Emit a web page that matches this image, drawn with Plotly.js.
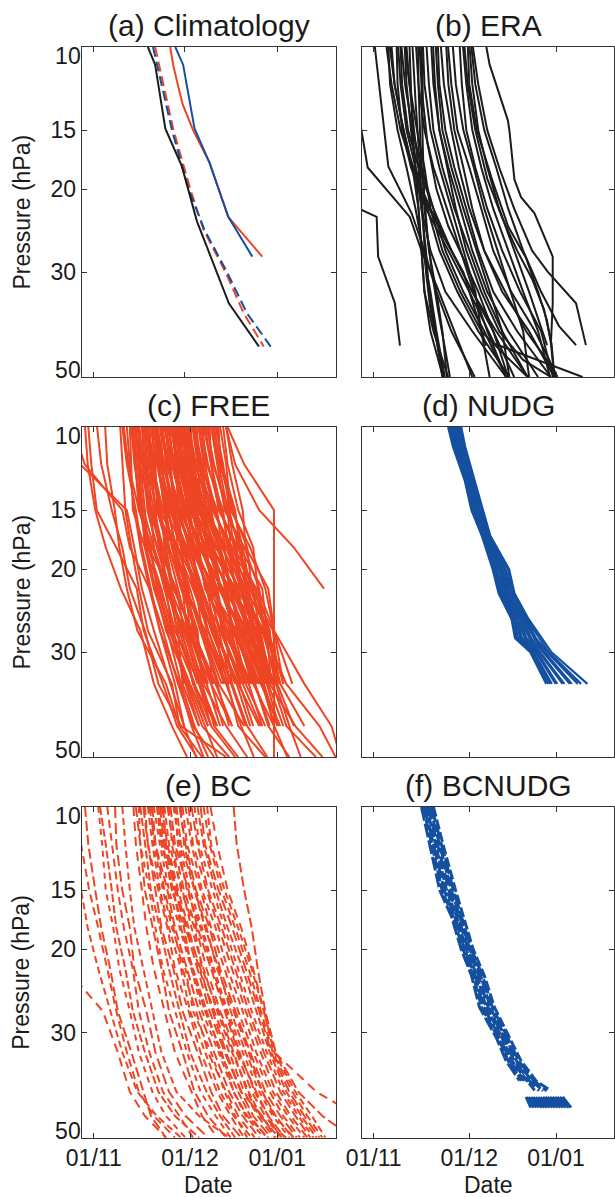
<!DOCTYPE html>
<html><head><meta charset="utf-8">
<script src="https://cdn.plot.ly/plotly-3.0.1.min.js"></script>
<style>html,body{margin:0;padding:0;background:#fff}</style>
</head><body><div id="chart" style="width:615px;height:1197px"></div>
<script>
// ---------------- DATA (x = days since 1 November, y = pressure in hPa) ----------------
const tickLabels = ['01/11', '01/12', '01/01'];
const tickDaysA = [0, 30, 61];
const tickDaysOther = [0, 32, 61];
const pressureTicks = [10, 15, 20, 30, 50];
const panelTitles = ['(a) Climatology', '(b) ERA', '(c) FREE', '(d) NUDG', '(e) BC', '(f) BCNUDG'];

// (a) Climatology : [day, hPa]
const climBlack    = [[18.0,10],[20.4,10.9],[23.8,14.9],[29.3,17.9],[34.3,23.4],[44.9,34.9],[54.9,43.1]];
const climRed      = [[25.4,10],[26.5,11.0],[29.5,13.2],[33.0,15.0],[38.5,17.6],[44.7,22.9],[56.0,27.8]];
const climBlue     = [[27.1,10],[29.7,10.9],[33.5,14.9],[38.5,17.6],[44.7,22.9],[52.7,27.8]];
const climRedDash  = [[20.4,10],[26.5,15.0],[32.1,20.0],[36.5,24.4],[43.8,30.0],[49.9,36.7],[56.5,43.1]];
const climBlueDash = [[19.7,10],[26.0,15.0],[31.5,20.0],[36.8,24.4],[44.3,30.0],[51.0,36.7],[58.8,43.1]];

// (b) ERA : each line is a list of [day, hPa]
const eraLines = [
 [[-4.5,14.5],[-2.0,18.0],[12.1,22.9],[16,27],[21,32],[27,40],[33,50]],
 [[-5,22.0],[1.0,22.9],[1.5,27.8],[7.1,34.9],[8.8,42.9]],
 [[0.4,10],[4.9,17.9],[12.7,22.5],[17,27],[21,33],[26,40],[33.8,50]],
 [[4.9,10],[5.5,12],[8,15],[11,18],[14,22],[16.5,27],[19,33],[21,40],[23.8,50]],
 [[5.4,10],[7,12],[10,15],[13,18],[15,22],[16,27],[17,33],[20,40],[24.9,50]],
 [[8.2,10],[9,12],[11,15],[14,18],[18,22],[22,27],[28,33],[35,40],[45.4,50]],
 [[9.3,10],[10.5,12],[13,15],[16,18],[20,22],[24,27],[30,33],[37,40],[44.3,50]],
 [[10.4,10],[12,12],[14.5,15],[17,18],[19,22],[23,27],[29,33],[36,40],[44,45],[51.5,50]],
 [[15.4,10],[16,12],[16.3,15],[16.6,18],[17,22],[18.5,27],[21,33],[23,40],[24.5,50]],
 [[16.0,10],[16.5,13],[18,16],[21,20],[25,24],[30,28],[35,33],[40,40],[47,50]],
 [[16.5,10],[17,12],[19,15],[22,18],[26,22],[30,27],[34,33],[36,40],[38.8,50]],
 [[19.3,10],[20,12],[22,15],[25,18],[29,22],[33,27],[38,33],[45,40],[55,50]],
 [[21.5,10],[22,12],[24,15],[27,18],[31,22],[35,27],[40,33],[48,40],[59.3,50]],
 [[24.3,10],[25,12],[27,15],[30,18],[33,22],[37,27],[43,33],[52,40],[60.4,50]],
 [[24.9,10],[26,12],[28,15],[32,18],[36,22],[40,27],[46,33],[54,40],[61.5,50]],
 [[28.8,10],[29.5,12],[31,15],[34,18],[38,22],[43,27],[49,33],[56,40],[60,50]],
 [[29.9,10],[31,12],[33,15],[36,18],[40,22],[45,27],[50,33],[55,40],[59,50]],
 [[32.1,10],[33,12],[35,15],[38,18],[42,22],[47,27],[52,33],[58,42.8]],
 [[32.7,10],[34,12],[37,15],[41,18],[45,22],[50,27],[56,33],[62,39],[67.7,42.8]],
 [[33.2,10],[35,12],[38,15],[42,18],[47,22],[53,27],[58.2,29.9],[67.7,34.9],[71.0,42.8]],
 [[37.7,10],[38.8,10.9],[44.9,14.3],[45.4,15],[47.1,19.1],[49.3,20.8],[53.8,22.5],[59.9,27.8],[59.9,34.9],[59.3,42.4],[60.4,50]],
 [[12,10],[12.5,12],[13,15],[14,18],[15,22],[16,27],[17,33],[19,40],[23.2,50]],
 [[13,10],[14,13],[15.5,18],[16.5,24],[17.5,30],[19,36],[21,42],[23.5,50]],
 [[6,10],[7,12],[9,14],[12,17],[17,21],[23,25],[30,30],[37.6,42.9]],
 [[7.7,10],[8,12],[9.5,15],[12.5,18],[17.5,22],[25,27],[32,33],[40.4,42.5],[69.9,50]],
 [[9.0,10],[9.5,12],[11.5,15],[15,18],[20,22],[26,27],[33,33],[40,40],[45,50]],
 [[4.3,10],[6,12],[9,15],[13,18],[19,22],[26,27],[33,33],[41,40],[51.5,50]],
 [[14.9,10],[15,12],[15.5,15],[16,18],[17,21],[18,25],[19.5,30],[21.5,36],[24,44],[25.5,50]],
 [[20.8,10],[21.5,12],[23,15],[26,18],[30,22],[34.5,27],[39,33],[43,40],[45.4,50]],
 [[17.7,10],[18.5,12],[20,15],[23,18],[27,22],[32,27],[37,33],[43,40],[51.5,50]],
 [[10.4,10],[11,12],[12.5,15],[14,18],[16,22],[19,27],[24,33],[33,40],[44.3,50]],
 [[19.9,10],[20.5,12],[22,15],[24.5,18],[27.5,22],[31,27],[36,33],[42,40],[50,46],[59.3,50]],
 [[30.4,10],[31.5,12],[34,15],[38,19],[43,23],[48,27],[53,31],[57,36],[59.5,42.5],[60.5,50]],
 [[31.5,10],[32,12],[34.5,15],[39.5,19],[45,24],[51,28],[55,33],[58,38],[59.3,42.4]],
 [[26.5,10],[27.5,12],[30,15],[33.5,18],[37,22],[41.5,27],[46,33],[50,40],[52,50]],
 [[14.2,10],[15,12],[17,15],[20,18],[24.5,22],[29,27],[33.5,33],[38,40],[44.3,50]],
 [[22.5,10],[23.5,12],[26,15],[28.5,18],[32,22],[37,27],[44,33],[51,40],[59,47],[61,50]],
 [[11,10],[12,12],[13.5,15],[15,18],[16,22],[17.5,27],[18.5,33],[20.5,40],[23,50]]
];

// (c) FREE : day at each pressure level (null = no value)
const freeLevels = [10, 12, 15, 18, 22, 27, 35, 43, 50];
const freeDays = [
 [-1.8,-0.8,1.0,7.5,14.3,16.6,23.0,27.7,34.3],
 [-2.9,-2.0,0.5,4.0,9.0,15.5,20.0,26.0,31.0],
 [1.1,2.5,6.0,9.5,12.0,17.0,21.5,29.0,44.0],
 [3.8,4.5,7.0,8.5,11.0,14.5,24.0,28.5,36.0],
 [-9.0,-4.5,11.0,13.5,16.0,20.0,25.5,30.0,null],
 [-7.0,-3.0,9.5,12.0,18.5,23.0,28.0,33.0,40.0],
 [8.8,9.5,10.5,12.5,15.0,18.0,26.0,28.5,null],
 [9.5,11.0,14.0,16.0,19.0,22.0,27.0,30.0,34.0],
 [12.0,12.5,13.0,17.0,22.0,26.5,30.0,null,null],
 [13.0,14.5,16.5,20.0,23.5,27.0,35.0,39.0,null],
 [13.5,13.8,15.0,19.5,24.0,30.0,35.5,41.0,null],
 [14.5,16.0,18.0,21.0,25.0,29.0,34.5,null,null],
 [15.0,15.5,17.0,18.0,25.5,31.0,36.0,40.0,48.0],
 [16.0,17.0,20.0,23.0,26.0,28.5,33.0,41.0,null],
 [16.5,18.0,19.0,22.0,27.0,32.0,38.0,null,null],
 [17.0,17.5,21.0,24.5,28.0,31.5,37.5,42.0,null],
 [17.5,19.0,22.5,23.5,26.5,33.0,39.5,null,null],
 [18.0,20.0,21.5,25.0,29.0,34.0,36.5,44.0,51.0],
 [18.5,19.5,23.0,27.0,30.5,32.0,40.0,null,null],
 [19.0,21.0,24.0,26.0,31.0,35.5,41.0,45.0,null],
 [19.5,20.0,22.0,28.0,32.0,36.0,42.5,null,null],
 [20.0,22.0,25.5,29.0,30.5,37.0,44.0,49.0,53.2],
 [20.5,22.5,24.5,27.5,33.0,38.0,45.0,null,null],
 [21.0,23.5,27.0,30.0,34.0,36.0,41.5,50.0,null],
 [21.5,22.0,26.0,31.0,35.0,39.0,46.0,null,null],
 [22.0,24.5,28.0,29.5,33.5,40.0,47.5,52.0,null],
 [22.5,25.0,27.5,32.0,36.0,41.0,43.0,null,null],
 [23.0,24.0,29.0,33.5,37.5,40.5,48.0,55.0,null],
 [24.0,26.0,30.0,32.5,38.0,42.0,49.0,null,null],
 [24.5,27.0,28.5,34.0,39.0,43.5,46.0,51.0,57.7],
 [25.0,26.5,31.0,35.0,37.0,44.0,50.0,null,null],
 [25.5,28.0,32.0,33.5,40.0,45.0,51.5,56.0,null],
 [26.0,27.5,30.5,36.0,41.0,43.0,52.0,null,null],
 [26.5,29.0,33.0,37.0,39.5,46.0,48.5,null,null],
 [27.0,28.5,34.0,38.0,42.0,47.0,53.0,59.9,59.9],
 [27.5,30.0,32.5,35.5,43.0,48.0,54.5,null,null],
 [28.0,29.5,35.0,39.0,44.0,45.5,50.5,57.0,null],
 [28.5,31.0,33.5,40.0,41.5,49.0,55.0,null,null],
 [29.0,30.5,36.0,37.5,45.0,50.0,56.0,60.0,64.3],
 [29.5,32.0,34.5,41.0,46.0,47.5,52.5,null,null],
 [30.0,31.5,37.0,42.0,43.5,51.0,57.5,null,null],
 [31.0,33.0,36.5,39.5,47.0,52.0,55.5,62.0,null],
 [31.5,34.0,38.0,43.0,48.0,50.5,58.5,null,null],
 [32.0,33.5,39.0,41.5,45.5,53.0,59.9,59.9,59.9],
 [33.0,35.0,37.5,44.0,49.0,54.0,57.0,null,null],
 [33.5,36.0,40.0,45.0,47.0,51.5,60.5,65.0,68.8],
 [34.0,35.5,41.0,42.5,50.0,55.0,59.0,null,null],
 [35.0,37.0,39.5,46.0,51.0,53.5,58.0,null,null],
 [35.5,38.0,42.0,47.0,48.5,56.0,61.0,66.5,null],
 [36.0,37.5,43.0,44.5,52.0,57.0,62.0,null,null],
 [37.0,39.0,41.5,48.0,53.0,55.0,59.5,64.0,73.8],
 [37.5,40.0,44.0,49.0,50.5,58.0,63.0,null,null],
 [38.0,39.5,45.0,46.5,54.0,58.5,60.0,null,null],
 [39.0,41.0,43.5,50.0,55.0,56.5,64.0,75.0,80.4],
 [40.0,42.0,46.0,51.0,52.5,59.5,61.5,null,null],
 [41.0,42.5,47.0,48.5,56.0,57.5,62.0,70.0,null],
 [42.0,44.0,45.5,52.0,57.0,59.9,66.0,null,null],
 [43.0,44.5,48.0,53.0,54.5,59.9,70.0,79.0,82.0],
 [44.0,46.0,49.5,50.5,58.0,59.9,63.0,null,null],
 [44.5,50.0,59.9,59.9,59.9,59.9,59.9,59.9,59.9],
 [44.0,47.0,55.0,66.5,76.5,null,null,null,null],
 [12.5,14.0,15.5,17.5,20.5,24.0,31.5,37.0,41.0],
 [10.0,11.5,15.0,19.0,21.0,25.0,32.0,38.0,null],
 [14.0,15.0,19.5,22.5,24.5,28.0,29.5,35.0,null],
 [23.5,25.5,26.5,30.5,35.5,40.0,44.5,48.0,57.0],
 [30.5,32.5,35.5,38.5,42.5,46.5,53.5,58.0,65.0],
 [20.0,21.5,23.5,26.0,29.5,33.5,39.0,46.0,null],
 [36.5,39.0,42.5,45.0,49.5,52.5,56.5,61.0,null],
 [40.5,43.0,45.0,48.0,51.5,54.5,58.5,67.0,76.0],
 [18.0,19.0,20.5,22.0,24.0,26.0,31.0,36.0,45.0],
 [12.5,13.5,16.0,18.5,21.5,25.5,30.5,35.0,null],
 [13.8,15.0,15.5,18.0,22.5,26.0,33.5,null,null],
 [15.2,16.5,19.0,20.0,24.5,29.5,33.0,38.0,null],
 [16.2,16.8,18.5,22.5,23.5,30.5,36.5,null,null],
 [17.3,18.5,20.5,21.5,27.5,30.0,35.0,40.5,null],
 [18.2,18.8,22.0,24.0,26.5,32.5,37.0,null,null],
 [19.2,20.5,21.0,26.5,29.5,31.0,39.0,43.0,null],
 [19.8,21.5,23.5,25.0,30.0,34.5,36.0,null,null],
 [20.8,21.2,25.0,27.0,31.5,33.0,40.5,46.0,null],
 [21.2,22.8,24.0,29.5,30.0,36.5,43.5,null,null],
 [22.2,23.0,26.5,28.0,34.5,37.5,39.5,null,null],
 [22.8,24.0,25.5,30.5,33.0,39.5,45.5,50.5,null],
 [23.8,25.5,27.0,29.0,35.0,38.0,44.0,null,null],
 [24.2,24.8,28.5,31.5,36.0,40.5,47.0,null,null],
 [25.2,26.0,29.5,33.0,34.5,42.5,48.5,53.0,null],
 [25.8,27.5,28.0,32.5,38.5,41.5,45.5,null,null],
 [26.2,28.0,31.5,34.5,37.0,44.5,50.5,null,null],
 [26.8,27.2,30.0,35.5,40.5,42.5,49.5,55.5,null],
 [27.2,29.5,31.0,33.0,38.0,46.5,51.0,null,null],
 [27.8,28.2,33.0,36.5,41.0,44.0,52.5,null,null],
 [28.2,30.0,32.0,37.5,39.0,47.5,53.5,58.5,null],
 [28.8,29.2,34.5,35.0,42.5,48.5,54.0,null,null],
 [29.2,31.5,33.0,38.5,44.5,46.0,55.5,null,null],
 [29.8,30.2,35.5,40.0,42.0,49.5,56.5,59.9,null],
 [30.2,32.5,34.0,36.5,45.5,51.5,53.0,null,null],
 [30.8,31.2,36.5,41.5,44.0,50.0,57.0,null,null],
 [31.2,33.5,35.0,39.0,46.5,52.5,58.0,63.0,null],
 [32.2,32.8,37.5,43.5,45.0,49.0,56.0,null,null],
 [32.8,34.5,36.0,40.5,48.5,53.5,59.0,null,null],
 [33.2,35.5,38.5,42.0,46.0,54.5,57.5,61.5,null],
 [34.2,34.8,39.5,45.5,49.5,51.0,59.5,null,null],
 [34.8,36.5,37.0,43.0,47.5,55.5,58.5,null,null],
 [36.2,36.8,40.5,44.0,50.5,53.0,59.9,null,null],
 [38.5,39.0,42.0,47.5,49.0,56.5,60.5,null,null],
 [39.5,41.5,44.5,45.5,53.5,57.5,59.0,null,null],
 [41.5,42.0,46.5,49.5,52.0,58.0,61.0,null,null],
 [16.8,17.5,17.8,21.0,25.5,27.5,33.5,39.0,47.0],
 [14.8,15.2,16.0,17.0,20.0,24.5,29.0,33.5,38.0],
 [11.0,12.0,13.5,15.5,18.5,22.0,28.5,32.5,36.5]
];

// (d) NUDG : day at each pressure level
const nudgLevels = [10, 11, 13, 15, 17, 20, 22.5, 25.5, 28, 30, 35];
const nudgDays = [
 [24.9,26.5,30.5,32.7,36.2,39.8,41.8,46.1,47.3,52.4,57.7],
 [25.2,26.9,30.7,33.1,36.4,40.3,42.3,46.3,47.9,52.7,58.4],
 [25.7,27.0,31.1,33.2,36.9,40.5,42.5,46.9,48.3,53.3,59.1],
 [26.0,27.5,31.2,33.7,37.0,41.1,43.1,47.2,49.1,53.6,59.6],
 [26.4,27.6,31.7,33.8,37.5,41.3,43.3,47.9,49.6,54.3,60.9],
 [26.6,28.1,31.8,34.3,37.5,42.0,43.9,48.2,50.5,54.7,61.4],
 [27.1,28.2,32.2,34.4,38.0,42.2,44.4,48.9,51.1,55.4,63.2],
 [27.3,28.7,32.3,34.9,38.1,42.9,44.7,49.2,52.1,55.8,63.8],
 [27.8,28.8,32.8,35.0,38.4,43.1,45.4,49.9,52.7,56.7,65.6],
 [28.0,29.4,32.9,35.6,38.5,43.8,45.7,50.2,53.7,57.2,66.3],
 [28.5,29.6,33.4,35.7,38.8,44.1,46.4,50.9,54.3,58.1,68.3],
 [28.8,30.2,33.5,36.3,38.9,44.9,46.6,51.2,55.3,58.6,69.4],
 [29.3,30.6,33.8,36.5,39.0,45.3,47.1,51.8,56.1,59.5,71.5]
];

// (e) BC : day at each pressure level
const bcLevels = [10, 12, 15, 18, 22, 27, 33, 40, 45, 50];
const bcDays = [
 [-9,-4.2,-1.5,1.5,4.5,7.5,11,15,20,27],
 [-12,-8,-4.2,-2,1.5,5.5,9.5,14.5,21,29],
 [null,null,null,null,-9,3,8,12,17,24],
 [-2.9,-1.8,0.5,2.5,5.5,8,12.5,16.5,19,24],
 [1.5,2.8,4.0,6.5,8.5,12.0,15.0,19.5,24.0,30.5],
 [2.1,4.0,6.0,7.5,10.5,13.0,17.0,21.5,27.0,35.0],
 [7.1,7.5,9.5,12.0,13.5,17.5,20.5,25.0,30.5,38.0],
 [4.5,6.0,8.0,10.0,13.0,15.0,18.5,23.0,28.5,33.0],
 [9.5,10.5,12.0,13.5,16.5,19.5,22.5,27.5,35.0,45.0],
 [13.2,14.0,16.0,17.5,20.0,23.5,27.0,32.5,36.0,41.0],
 [14.0,15.5,17.0,19.5,22.5,25.0,29.5,33.5,38.0,44.0],
 [15.0,15.5,18.5,20.5,23.0,27.0,31.0,35.5,40.5,45.5],
 [15.5,17.0,19.0,22.0,25.0,28.5,32.0,37.5,42.0,47.0],
 [16.5,18.0,20.5,22.5,26.5,29.5,34.5,39.0,43.0,49.0],
 [17.0,18.0,21.5,24.5,27.0,31.5,35.5,41.0,45.5,50.0],
 [18.0,19.5,22.0,25.0,29.0,32.0,37.0,42.0,46.5,52.5],
 [18.5,20.5,23.5,26.5,29.5,34.0,38.0,44.0,48.0,53.5],
 [19.5,20.5,24.5,27.0,31.0,35.0,40.0,45.0,49.5,55.0],
 [20.0,22.0,25.0,28.5,32.5,36.0,41.5,46.5,50.5,56.5],
 [21.0,22.5,26.5,29.0,33.0,37.5,42.0,48.0,52.0,57.5],
 [22.0,23.5,27.0,30.5,34.5,38.5,43.5,49.0,53.0,59.0],
 [22.5,24.5,28.0,31.5,35.0,40.0,45.0,50.0,54.5,60.0],
 [23.5,25.0,29.5,32.5,36.5,41.0,46.0,51.5,55.5,61.5],
 [24.5,26.5,30.0,34.0,37.5,42.0,47.5,52.5,57.0,62.5],
 [25.5,27.0,31.5,34.5,39.0,43.5,48.0,54.0,58.0,63.5],
 [26.5,28.5,32.0,36.0,40.0,44.5,49.5,55.0,59.5,65.0],
 [27.5,29.0,33.5,37.0,41.5,45.5,50.5,56.0,60.5,66.0],
 [28.5,30.5,34.0,38.5,42.0,47.0,52.0,57.0,62.0,67.5],
 [29.5,31.0,35.5,39.0,43.5,48.0,53.0,58.5,63.0,68.5],
 [30.5,32.5,36.0,40.5,44.5,49.5,54.0,59.5,64.5,70.0],
 [31.5,33.0,37.5,41.5,46.0,50.5,55.5,60.5,65.5,71.0],
 [32.5,34.5,38.0,42.5,47.0,51.5,56.5,62.0,67.0,72.0],
 [33.5,35.0,39.5,43.5,48.0,52.5,57.5,63.0,68.0,73.0],
 [34.5,36.5,40.5,44.5,49.5,54.0,58.5,64.0,69.0,74.0],
 [35.5,37.0,41.5,46.0,50.5,55.0,59.0,65.0,70.0,75.0],
 [36.5,38.5,42.5,47.0,51.5,55.5,59.5,66.0,71.0,76.0],
 [37.7,39.0,43.5,48.0,52.5,56.5,60.0,67.0,72.5,77.0],
 [38.8,41.0,44.5,49.0,53.0,56.5,60.0,74.0,88.0,100.0],
 [46.5,47.5,50.0,52.5,54.5,57.0,60.5,68.0,76.0,86.0],
 [19.0,20.0,23.0,26.0,30.5,33.0,39.0,43.5,47.0,51.0],
 [21.5,23.0,26.0,30.0,32.5,37.0,42.5,46.5,51.0,58.0],
 [23.0,24.0,27.5,31.0,35.5,39.5,44.0,49.0,56.0,60.5],
 [25.0,26.0,29.0,33.5,36.0,41.5,46.5,51.0,55.0,64.0],
 [27.0,28.0,31.0,35.5,39.5,44.0,48.5,53.5,58.0,62.0],
 [29.0,30.0,33.5,37.5,41.0,46.5,51.5,56.0,60.0,66.5]
];

// (f) BCNUDG : day at each pressure level, plus the detached piece at 41-43 hPa
const bcnudgLevels = [10, 12, 15, 17, 20, 22.7, 26.5, 30.7, 34.4, 37.9, 39.8];
const bcnudgDays = [
 [16.0,18.8,22.1,26.0,29.3,32.7,35.4,41.0,44.3,48.8,null],
 [16.6,19.4,22.9,26.5,29.9,33.3,36.1,41.6,45.0,49.6,null],
 [17.1,20.0,23.6,27.1,30.4,33.9,36.8,42.2,45.6,50.4,null],
 [17.7,20.7,24.4,27.7,31.0,34.5,37.6,42.9,46.3,51.3,54.0],
 [18.2,21.3,25.2,28.2,31.6,35.1,38.3,43.5,47.0,52.1,55.3],
 [18.8,22.0,26.0,28.8,32.2,35.8,39.0,44.1,47.8,52.9,56.6],
 [19.4,22.6,26.7,29.3,32.7,36.4,39.7,44.8,48.5,53.6,57.9],
 [20.0,23.2,27.4,29.9,33.3,37.0,40.4,45.4,49.3,54.3,59.3]
];
const bcnudgBlockLevels = [41.0, 43.2];
const bcnudgBlockDays = [
 [51.0,52.6],[51.8,53.5],[52.6,54.4],[53.4,55.3],[54.2,56.2],[55.0,57.1],[55.8,58.0],[56.6,58.9],
 [57.4,59.8],[58.2,60.7],[59.0,61.6],[59.8,62.5],[60.6,63.4],[61.4,64.3],[62.3,65.2],[63.2,66.0]
];

// ---------------- BUILD ----------------
const RED = '#ee4524', BLUE = '#1550a0', BLACK = '#1c1c1c';
const BC_DASHES = ['8px,5px', '7px,4px', '9px,6px', '10px,4px', '6px,5px', '8px,3px', '11px,5px'];
const BCN_DASHES = ['14px,3px', '11px,2px', '16px,3px', '9px,2px', '13px,4px', '12px,2px', '15px,3px', '10px,3px'];

function fromPairs(lines) {
  const x = [], y = [];
  lines.forEach(l => { l.forEach(pt => { x.push(pt[0]); y.push(pt[1]); }); x.push(null); y.push(null); });
  return {x, y};
}
function fromLevels(lines, levels) {
  const x = [], y = [];
  lines.forEach(l => { l.forEach((d, i) => { if (d !== null) { x.push(d); y.push(levels[i]); } }); x.push(null); y.push(null); });
  return {x, y};
}
function tr(xy, ax, color, width, dash) {
  return {type: 'scatter', mode: 'lines', x: xy.x, y: xy.y, xaxis: 'x' + ax, yaxis: 'y' + ax,
          line: {color: color, width: width, dash: dash || 'solid'}, hoverinfo: 'skip', showlegend: false};
}
const traces = [
  tr(fromPairs([climRedDash]), '', RED, 2, '10px,5px'),
  tr(fromPairs([climBlueDash]), '', BLUE, 2, '10px,5px'),
  tr(fromPairs([climBlack]), '', BLACK, 2),
  tr(fromPairs([climRed]), '', RED, 2),
  tr(fromPairs([climBlue]), '', BLUE, 2),
  tr(fromPairs(eraLines), '2', BLACK, 2),
  tr(fromLevels(freeDays, freeLevels), '3', RED, 2),
  tr(fromLevels(nudgDays, nudgLevels), '4', BLUE, 2.2)
];
bcDays.forEach((l, i) => traces.push(tr(fromLevels([l], bcLevels), '5', RED, 2, BC_DASHES[i % BC_DASHES.length])));
bcnudgDays.forEach((l, i) => traces.push(tr(fromLevels([l], bcnudgLevels), '6', BLUE, 3, BCN_DASHES[i % BCN_DASHES.length])));
traces.push(tr(fromLevels(bcnudgBlockDays, bcnudgBlockLevels), '6', BLUE, 3));

const FONT = 'Liberation Sans, Arial, Helvetica, sans-serif';
const TXT = '#1a1a1a';
const W = 615, H = 1197;
const colDom = [[81.7 / W, 336 / W], [361.7 / W, 614.3 / W]];
const rowPx = [[47, 377], [427, 757], [807, 1137.7]];
const rowDom = rowPx.map(r => [1 - r[1] / H, 1 - r[0] / H]);
const YRANGE = [Math.log10(50), 1];

const layout = {
  width: W, height: H, margin: {l: 0, r: 0, t: 0, b: 0},
  paper_bgcolor: '#fff', plot_bgcolor: '#fff', showlegend: false,
  font: {family: FONT, color: TXT, size: 23},
  annotations: []
};
const tickFont = {family: FONT, size: 23, color: TXT};
for (let i = 0; i < 6; i++) {
  const col = i % 2, row = Math.floor(i / 2);
  const s = i === 0 ? '' : String(i + 1);
  layout['xaxis' + s] = {
    domain: colDom[col], anchor: 'y' + s, range: [-4, 80.5],
    tickmode: 'array', tickvals: i === 0 ? tickDaysA : tickDaysOther, ticktext: tickLabels,
    showticklabels: row === 2, ticks: 'inside', ticklen: 5, tickwidth: 1, tickcolor: '#333',
    showline: true, linecolor: '#333', linewidth: 1, mirror: 'ticks',
    showgrid: false, zeroline: false, fixedrange: true, tickfont: tickFont
  };
  // middle labels on the main axis; end labels (10, 50) on overlay axes kept inside the frame
  layout['yaxis' + s] = {
    domain: rowDom[row], anchor: 'x' + s, type: 'log', range: YRANGE,
    tickmode: 'array', tickvals: pressureTicks,
    ticktext: pressureTicks.map((v, k) => (k === 0 || k === pressureTicks.length - 1) ? '' : String(v)),
    showticklabels: col === 0, ticks: 'inside', ticklen: 5, tickwidth: 1, tickcolor: '#333',
    showline: true, linecolor: '#333', linewidth: 1, mirror: 'ticks',
    showgrid: false, zeroline: false, fixedrange: true, tickfont: tickFont
  };
  const cx = (colDom[col][0] + colDom[col][1]) / 2;
  layout.annotations.push({
    text: panelTitles[i], xref: 'paper', yref: 'paper', x: cx, y: 1 - (rowPx[row][0] - 22) / H,
    xanchor: 'center', yanchor: 'middle', showarrow: false, font: {family: FONT, size: 30, color: TXT}
  });
  if (col === 0) {
    const topId = String(7 + 2 * row), botId = String(8 + 2 * row);
    const ov = {overlaying: 'y' + s, anchor: 'x' + s, side: 'left', type: 'log', range: YRANGE,
                tickmode: 'array', ticks: '', showline: false, showgrid: false, zeroline: false,
                fixedrange: true, tickfont: tickFont};
    layout['yaxis' + topId] = Object.assign({}, ov, {tickvals: [pressureTicks[0]], ticktext: [String(pressureTicks[0])], ticklabelshift: -9});
    layout['yaxis' + botId] = Object.assign({}, ov, {tickvals: [pressureTicks[4]], ticktext: [String(pressureTicks[4])], ticklabelshift: 7});
    // empty traces (no marks) so the overlay label axes get created
    traces.push({type: 'scatter', mode: 'lines', x: [], y: [], xaxis: 'x' + s, yaxis: 'y' + topId, hoverinfo: 'skip', showlegend: false});
    traces.push({type: 'scatter', mode: 'lines', x: [], y: [], xaxis: 'x' + s, yaxis: 'y' + botId, hoverinfo: 'skip', showlegend: false});
    layout.annotations.push({
      text: 'Pressure (hPa)', xref: 'paper', yref: 'paper', x: 21.5 / W,
      y: 1 - (rowPx[row][0] + rowPx[row][1]) / 2 / H, textangle: -90,
      xanchor: 'center', yanchor: 'middle', showarrow: false, font: {family: FONT, size: 23, color: TXT}
    });
  }
  if (row === 2) {
    layout.annotations.push({
      text: 'Date', xref: 'paper', yref: 'paper', x: cx, y: 1 - 1184.7 / H,
      xanchor: 'center', yanchor: 'middle', showarrow: false, font: {family: FONT, size: 23, color: TXT}
    });
  }
}
Plotly.newPlot('chart', traces, layout, {staticPlot: true, displayModeBar: false});
</script>
</body></html>
